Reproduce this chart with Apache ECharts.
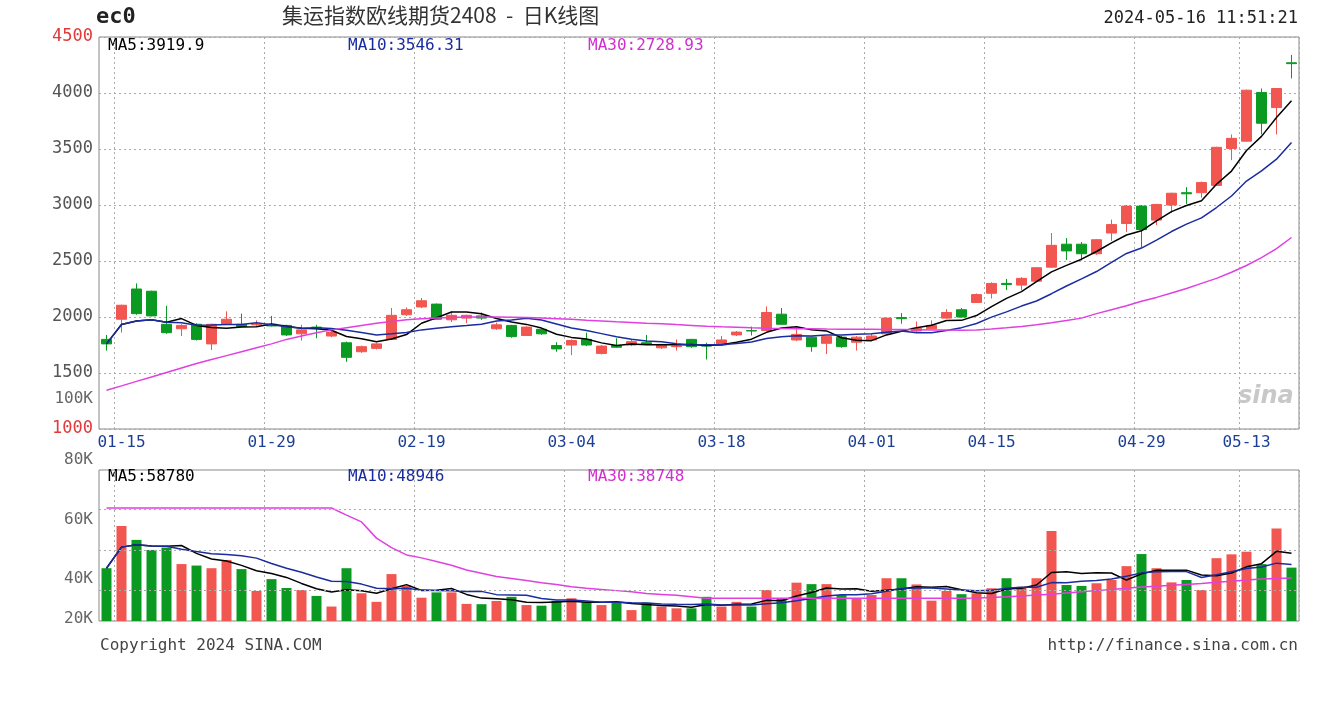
<!DOCTYPE html>
<html>
<head>
<meta charset="utf-8">
<script src="https://cdn.jsdelivr.net/npm/echarts@6/dist/echarts.min.js"></script>
<style>
  html, body { margin: 0; padding: 0; background: #fff; }
  #main { width: 1320px; height: 720px; }
</style>
</head>
<body>
<div id="main"></div>
<script>
// 日期
var dates = ['01-12','01-15','01-16','01-17','01-18','01-19','01-22','01-23','01-24','01-25','01-26','01-29','01-30','01-31',
  '02-01','02-02','02-05','02-06','02-07','02-08','02-09','02-19','02-20','02-21','02-22','02-23','02-26','02-27','02-28','02-29',
  '03-01','03-04','03-05','03-06','03-07','03-08','03-11','03-12','03-13','03-14','03-15','03-18','03-19','03-20','03-21','03-22',
  '03-25','03-26','03-27','03-28','03-29','04-01','04-02','04-03','04-08','04-09','04-10','04-11','04-12','04-15','04-16','04-17',
  '04-18','04-19','04-22','04-23','04-24','04-25','04-26','04-29','04-30','05-06','05-07','05-08','05-09','05-10','05-13','05-14',
  '05-15','05-16'];
var labelDays = ['01-15','01-29','02-19','03-04','03-18','04-01','04-15','04-29','05-13'];

// K线 [开, 收, 低, 高]
var kdata = [
  [1800,1760,1700,1840],[1980,2105,1860,2110],[2250,2030,2020,2300],[2230,2010,2005,2235],[1935,1860,1850,2100],
  [1895,1925,1830,1935],[1935,1800,1790,1945],[1760,1935,1705,1940],[1940,1980,1930,2050],[1935,1915,1910,2030],
  [1930,1935,1920,1970],[1935,1920,1915,2010],[1925,1840,1830,1930],[1850,1885,1790,1930],[1910,1900,1810,1930],
  [1830,1865,1820,1875],[1770,1640,1600,1780],[1690,1735,1680,1745],[1720,1760,1710,1770],[1800,2015,1795,2080],
  [2020,2065,2010,2085],[2090,2145,2080,2170],[2115,1980,1975,2120],[1975,2015,1955,2050],[1990,2015,1945,2020],
  [2010,1990,1975,2040],[1895,1930,1885,1950],[1925,1825,1815,1930],[1835,1910,1830,1915],[1890,1850,1840,1900],
  [1745,1715,1690,1775],[1750,1790,1660,1800],[1800,1750,1740,1860],[1675,1740,1665,1750],[1745,1730,1725,1810],
  [1750,1780,1740,1800],[1770,1760,1755,1840],[1725,1755,1715,1760],[1735,1740,1700,1800],[1800,1735,1725,1805],
  [1745,1740,1620,1770],[1750,1795,1740,1830],[1840,1865,1830,1875],[1880,1875,1835,1915],[1880,2040,1875,2095],
  [2025,1935,1930,2080],[1795,1845,1785,1890],[1820,1735,1690,1830],[1765,1825,1670,1830],[1820,1735,1725,1830],
  [1775,1820,1700,1830],[1795,1830,1785,1850],[1850,1990,1840,1995],[1995,1985,1940,2035],[1875,1900,1865,1960],
  [1895,1925,1890,1970],[1990,2040,1985,2070],[2065,2000,1995,2080],[2130,2200,2125,2210],[2212,2300,2165,2310],
  [2300,2290,2240,2340],[2285,2345,2240,2355],[2320,2440,2315,2445],[2445,2640,2440,2750],[2650,2590,2510,2705],
  [2650,2565,2505,2670],[2565,2690,2555,2695],[2750,2825,2680,2870],[2835,2990,2760,3000],[2990,2780,2620,3000],
  [2865,3005,2820,3010],[3000,3105,2930,3110],[3110,3100,3010,3160],[3110,3200,3065,3210],[3175,3515,3170,3520],
  [3505,3595,3400,3630],[3570,4025,3565,4030],[4005,3730,3630,4040],[3870,4040,3630,4045],[4270,4262,4130,4340]
];
// 30日均线
var ma30 = [1346,1385,1425,1465,1505,1545,1585,1620,1655,1690,1725,1760,1800,1830,1860,1885,1905,1925,1945,1960,
  1975,1985,1990,1995,2000,2000,2000,1998,1995,1990,1985,1980,1972,1965,1958,1952,1945,1940,1932,1925,
  1918,1912,1908,1903,1900,1898,1896,1894,1892,1891,1890,1890,1889,1888,1887,1885,1883,1882,1885,1892,
  1903,1915,1930,1948,1968,1990,2030,2065,2100,2140,2175,2215,2255,2300,2345,2400,2460,2530,2610,2710];

// 成交量(K)
var volume = [44.0,58.3,53.6,50.2,51.0,45.4,44.9,44.0,46.8,43.7,36.3,40.3,37.3,36.6,34.6,31.0,44.0,35.5,32.6,42.0,
  38.1,34.0,35.8,35.8,31.9,31.8,32.9,34.3,31.5,31.3,32.9,33.8,32.6,31.5,32.3,29.8,32.3,31.0,30.4,30.4,
  34.3,31.0,32.6,31.0,36.6,33.6,39.1,38.6,38.6,34.9,33.8,34.9,40.6,40.6,38.5,33.0,36.3,35.2,35.5,37.2,
  40.6,37.7,40.6,56.6,38.3,38.0,38.9,40.0,44.7,48.8,44.0,39.2,40.0,36.6,47.4,48.7,49.6,45.4,57.5,44.2];
var volMa30 = [64.4,64.4,64.4,64.4,64.4,64.4,64.4,64.4,64.4,64.4,64.4,64.4,64.4,64.4,64.4,64.4,62.0,59.7,54.2,51.0,
  48.5,47.5,46.3,45.0,43.4,42.3,41.2,40.5,39.8,39.1,38.5,37.7,37.2,36.8,36.4,36.0,35.4,35.1,34.8,34.3,
  33.8,33.8,33.8,33.8,33.8,33.8,33.8,33.8,33.8,33.8,33.8,33.8,33.8,33.8,33.8,33.8,33.8,33.8,33.9,34.1,
  34.3,34.6,34.9,35.2,35.6,36.0,36.4,36.8,37.2,37.6,37.9,38.2,38.5,38.8,39.2,39.6,40.0,40.3,40.5,40.7];

var RED = '#f25650', GREEN = '#0a9a22';
var MONO = 'DejaVu Sans Mono';

function ma(arr, n, get) {
  var out = [];
  for (var i = 0; i < arr.length; i++) {
    var s = 0, c = 0;
    for (var j = Math.max(0, i - n + 1); j <= i; j++) { s += get(arr[j]); c++; }
    out.push(+(s / c).toFixed(2));
  }
  return out;
}
var close = function (d) { return d[1]; };
var ma5 = ma(kdata, 5, close), ma10 = ma(kdata, 10, close);
var volK = volume.map(function (v) { return v * 1000; });
var vma5 = ma(volK, 5, function (v) { return v; });
var vma10 = ma(volK, 10, function (v) { return v; });
var volBars = volK.map(function (v, i) {
  return { value: v, itemStyle: { color: kdata[i][1] >= kdata[i][0] ? RED : GREEN } };
});

var showIdx = function (i) { return labelDays.indexOf(dates[i]) >= 0; };
var dotted = { show: true, interval: showIdx, lineStyle: { color: '#aaa', type: [2, 3] } };

var chart = echarts.init(document.getElementById('main'));
chart.setOption({
  animation: false,
  backgroundColor: '#fff',
  grid: [
    { left: 99, width: 1200, top: 37, height: 392, show: true, borderColor: '#888', borderWidth: 1 },
    { left: 99, width: 1200, top: 470, height: 151, show: true, borderColor: '#888', borderWidth: 1 }
  ],
  xAxis: [
    { type: 'category', gridIndex: 0, data: dates, boundaryGap: true,
      axisLine: { show: false }, axisTick: { show: false },
      axisLabel: { interval: showIdx, color: '#1c3f95', fontFamily: MONO, fontSize: 16, margin: 6 },
      splitLine: dotted },
    { type: 'category', gridIndex: 1, data: dates, boundaryGap: true,
      axisLine: { show: false }, axisTick: { show: false }, axisLabel: { show: false },
      splitLine: dotted }
  ],
  yAxis: [
    { type: 'value', gridIndex: 0, min: 1000, max: 4500, interval: 500,
      axisLine: { show: false }, axisTick: { show: false },
      axisLabel: { fontFamily: MONO, fontSize: 17, margin: 6,
        formatter: function (v) { return (v === 4500 || v === 1000) ? '{r|' + v + '}' : '{g|' + v + '}'; },
        rich: { r: { color: '#e03a3a', fontFamily: MONO, fontSize: 17 }, g: { color: '#555', fontFamily: MONO, fontSize: 17 } } },
      splitLine: { show: true, lineStyle: { color: '#aaa', type: [2, 3] } } },
    { type: 'value', gridIndex: 1, min: 26100, max: 77300,
      axisLine: { show: false }, axisTick: { show: false }, axisLabel: { show: false }, splitLine: { show: false } }
  ],
  series: [
    { type: 'candlestick', xAxisIndex: 0, yAxisIndex: 0, data: kdata, barWidth: 10,
      itemStyle: { color: RED, color0: GREEN, borderColor: RED, borderColor0: GREEN, borderWidth: 1 } },
    { type: 'line', data: ma5, showSymbol: false, lineStyle: { color: '#000', width: 1.5 } },
    { type: 'line', data: ma10, showSymbol: false, lineStyle: { color: '#1a2ca0', width: 1.5 } },
    { type: 'line', data: ma30, showSymbol: false, lineStyle: { color: '#e040e0', width: 1.5 } },
    { type: 'bar', xAxisIndex: 1, yAxisIndex: 1, data: volBars, barWidth: 10,
      markLine: { silent: true, symbol: 'none', label: { show: false },
        lineStyle: { color: '#aaa', type: [2, 3], width: 1 },
        data: [{ yAxis: 36600 }, { yAxis: 50200 }, { yAxis: 64100 }] } },
    { type: 'line', xAxisIndex: 1, yAxisIndex: 1, data: vma5, showSymbol: false, lineStyle: { color: '#000', width: 1.5 } },
    { type: 'line', xAxisIndex: 1, yAxisIndex: 1, data: vma10, showSymbol: false, lineStyle: { color: '#1a2ca0', width: 1.5 } },
    { type: 'line', xAxisIndex: 1, yAxisIndex: 1, data: volMa30.map(function (v) { return v * 1000; }), showSymbol: false,
      lineStyle: { color: '#e040e0', width: 1.5 } }
  ],
  graphic: [
    { type: 'text', left: 96, top: 6, style: { text: 'ec0', font: 'bold 22px ' + MONO, fill: '#222' } },
    { type: 'text', left: 282, top: 5, style: { text: '集运指数欧线期货2408  -  日K线图', font: '21px "Noto Sans CJK SC"', fill: '#333' } },
    { type: 'text', right: 22, top: 10, style: { text: '2024-05-16 11:51:21', font: '17px ' + MONO, fill: '#222' } },
    { type: 'text', left: 108, top: 38, style: { text: 'MA5:3919.9', font: '16px ' + MONO, fill: '#000' } },
    { type: 'text', left: 348, top: 38, style: { text: 'MA10:3546.31', font: '16px ' + MONO, fill: '#1a2ca0' } },
    { type: 'text', left: 588, top: 38, style: { text: 'MA30:2728.93', font: '16px ' + MONO, fill: '#d030d0' } },
    { type: 'text', right: 1227, top: 391, style: { text: '100K', font: '16px ' + MONO, fill: '#666', align: 'right' } },
    { type: 'text', left: 1238, top: 385, style: { text: 'sina', font: 'italic bold 24px "DejaVu Sans"', fill: '#c8c8c8' } },
    { type: 'text', right: 1227, top: 452, style: { text: '80K', font: '16px ' + MONO, fill: '#666' } },
    { type: 'text', right: 1227, top: 512, style: { text: '60K', font: '16px ' + MONO, fill: '#666' } },
    { type: 'text', right: 1227, top: 571, style: { text: '40K', font: '16px ' + MONO, fill: '#666' } },
    { type: 'text', right: 1227, top: 611, style: { text: '20K', font: '16px ' + MONO, fill: '#666' } },
    { type: 'text', left: 108, top: 469, style: { text: 'MA5:58780', font: '16px ' + MONO, fill: '#000' } },
    { type: 'text', left: 348, top: 469, style: { text: 'MA10:48946', font: '16px ' + MONO, fill: '#1a2ca0' } },
    { type: 'text', left: 588, top: 469, style: { text: 'MA30:38748', font: '16px ' + MONO, fill: '#d030d0' } },
    { type: 'text', left: 100, top: 638, style: { text: 'Copyright 2024 SINA.COM', font: '16px ' + MONO, fill: '#444' } },
    { type: 'text', right: 22, top: 638, style: { text: 'http://finance.sina.com.cn', font: '16px ' + MONO, fill: '#444' } }
  ]
});
window.addEventListener('resize', function () { chart.resize(); });
</script>
</body>
</html>
